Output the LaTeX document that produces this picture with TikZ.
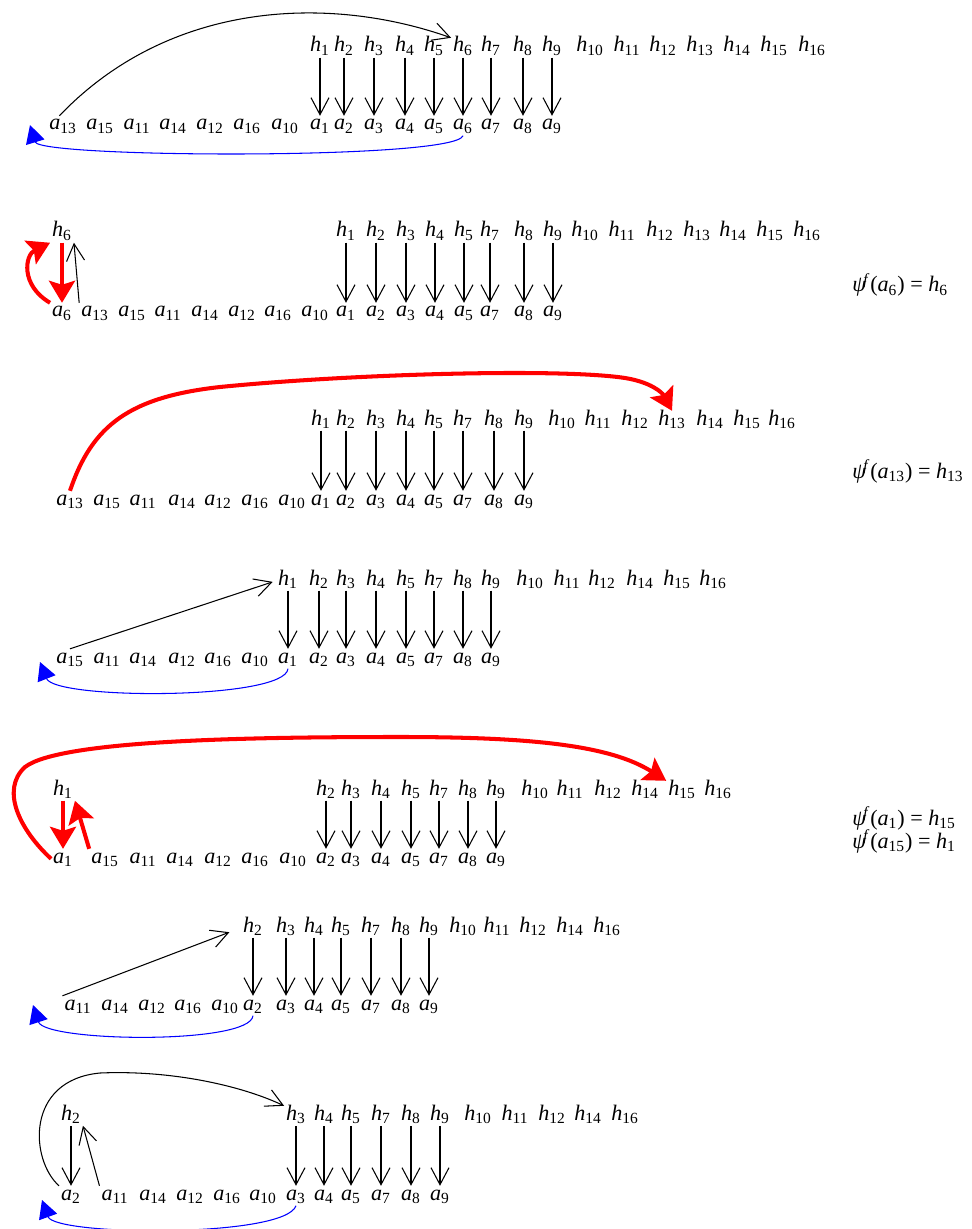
\documentclass[tikz,border=0pt]{standalone}
\usepackage{fontspec}
\setmainfont{Liberation Serif}
\usepackage{tikz}
\usetikzlibrary{arrows.meta}

\begin{document}
\begin{tikzpicture}[x=0.02cm,y=-0.02cm]
    \tikzstyle{lbl} = [
      inner sep=1pt,
      anchor=base,
      text height=1.5ex,
      text depth=0.45ex,
      font=\fontsize{12.6}{14}\selectfont,
    ]
    \tikzstyle{eqn} = [
      inner sep=0pt,
      anchor=base west,
      font=\fontsize{12.6}{14}\selectfont,
    ]
    \tikzstyle{link} = [
      line width=0.6pt,
      -{Straight Barb[length=0.34cm,width=0.36cm]},
      draw=black,
    ]
    \tikzstyle{back} = [
      line width=0.6pt,
      -{Triangle[length=0.36cm,width=0.38cm]},
      draw=blue,
      fill=none,
    ]
    \tikzstyle{hit} = [
      line width=2.3pt,
      -{Stealth[length=0.44cm,width=0.52cm,inset=0.08cm]},
      draw=red,
    ]

    \newcommand{\hsym}[1]{\textit{h}\textsubscript{#1}}
    \newcommand{\asym}[1]{\textit{a}\textsubscript{#1}}
    \newcommand{\psisym}[2]{\textit{ψ}\textsuperscript{\kern-0.2em\textit{f}}(\asym{#1}) = \hsym{#2}}

    \useasboundingbox (0,0) rectangle (972,1229);

    % row 1
    \foreach \i/\x in {1/320,2/344,3/374,4/405,5/434,6/463,7/491,8/523,9/552} {
      \node[lbl] (r1h\i) at (\x,52) {\hsym{\i}};
      \node[lbl] (r1a\i) at (\x,130) {\asym{\i}};
      \draw[link] (r1a\i |- r1h\i.south) -- (r1a\i.north);
    }
    \foreach \i/\x in {10/590,11/627,12/663,13/700,14/737,15/774,16/812}
      \node[lbl] (r1h\i) at (\x,52) {\hsym{\i}};
    \foreach \i/\x in {13/63,15/100,11/137,14/173,12/210,16/247,10/285}
      \node[lbl] (r1a\i) at (\x,130) {\asym{\i}};
    \coordinate (r1end) at (30,125);
    \draw[link] (r1a13.110) .. controls (170,0) and (330,-5) .. (r1h6.north west);
    \draw[back] (r1a6.south) .. controls (455,160) and (40,158) .. (r1end);

    % row 2
    \foreach \i/\x in {1/346,2/376,3/406,4/435,5/464,7/490,8/524,9/553} {
      \node[lbl] (r2h\i) at (\x,237) {\hsym{\i}};
      \node[lbl] (r2a\i) at (\x,317) {\asym{\i}};
      \draw[link] (r2a\i |- r2h\i.south) -- (r2a\i.north);
    }
    \foreach \i/\x in {10/585,11/622,12/660,13/697,14/733,15/770,16/807}
      \node[lbl] (r2h\i) at (\x,237) {\hsym{\i}};
    \node[lbl] (r2h6) at (62,237) {\hsym{6}};
    \node[lbl] (r2a6) at (62,317) {\asym{6}};
    \foreach \i/\x in {13/95,15/132,11/168,14/205,12/242,16/278,10/315}
      \node[lbl] (r2a\i) at (\x,317) {\asym{\i}};
    \draw[hit] (r2h6.south) -- (r2a6.north);
    \draw[hit] (r2a6.north west) .. controls (20,285) and (25,255) .. (r2h6.south west);
    \draw[link] (r2a13.north west) -- (r2h6.south east);
    \node[eqn] (r2psi) at (852,292) {\psisym{6}{6}};

    % row 3
    \foreach \i/\x in {1/321,2/346,3/376,4/406,5/434,7/463,8/494,9/524} {
      \node[lbl] (r3h\i) at (\x,425) {\hsym{\i}};
      \node[lbl] (r3a\i) at (\x,505) {\asym{\i}};
      \draw[link] (r3a\i |- r3h\i.south) -- (r3a\i.north);
    }
    \foreach \i/\x in {10/562,11/598,12/635,13/672,14/710,15/747,16/782}
      \node[lbl] (r3h\i) at (\x,425) {\hsym{\i}};
    \foreach \i/\x in {13/70,15/107,11/143,14/182,12/218,16/255,10/292}
      \node[lbl] (r3a\i) at (\x,505) {\asym{\i}};
    \draw[hit] (r3a13.north) .. controls (92,425) and (130,397) .. (220,387)
      .. controls (350,374) and (560,368) .. (625,378)
      .. controls (650,382) and (662,392) .. (r3h13.north);
    \node[eqn] (r3psi) at (852,478) {\psisym{13}{13}};

    % row 4
    \foreach \i/\x in {1/288,2/319,3/346,4/376,5/406,7/434,8/463,9/491} {
      \node[lbl] (r4h\i) at (\x,585) {\hsym{\i}};
      \node[lbl] (r4a\i) at (\x,663) {\asym{\i}};
      \draw[link] (r4a\i |- r4h\i.south) -- (r4a\i.north);
    }
    \foreach \i/\x in {10/530,11/567,12/602,14/640,15/677,16/713}
      \node[lbl] (r4h\i) at (\x,585) {\hsym{\i}};
    \foreach \i/\x in {15/70,11/107,14/143,12/182,16/218,10/255}
      \node[lbl] (r4a\i) at (\x,663) {\asym{\i}};
    \coordinate (r4end) at (40,662);
    \draw[link,shorten >=2pt] (r4a15.north) -- (r4h1.west);
    \draw[back] (r4a1.south) .. controls (285,700) and (55,700) .. (r4end);

    % row 5
    \foreach \i/\x in {2/326,3/351,4/381,5/411,7/439,8/468,9/496} {
      \node[lbl] (r5h\i) at (\x,795) {\hsym{\i}};
      \node[lbl] (r5a\i) at (\x,863) {\asym{\i}};
      \draw[link] (r5a\i |- r5h\i.south) -- (r5a\i.north);
    }
    \foreach \i/\x in {10/535,11/570,12/608,14/645,15/682,16/718}
      \node[lbl] (r5h\i) at (\x,795) {\hsym{\i}};
    \node[lbl] (r5h1) at (63,795) {\hsym{1}};
    \node[lbl] (r5a1) at (63,863) {\asym{1}};
    \foreach \i/\x in {15/105,11/143,14/180,12/218,16/255,10/293}
      \node[lbl] (r5a\i) at (\x,863) {\asym{\i}};
    \draw[hit] (r5h1.south) -- (r5a1.north);
    \draw[hit] (r5a15.north west) -- (r5h1.south east);
    \draw[hit] (r5a1.west) .. controls (20,830) and (0,790) .. (25,767)
      .. controls (60,740) and (250,737) .. (400,737)
      .. controls (530,737) and (610,745) .. (r5h15.north west);
    \node[eqn] (r5psiI) at (852,825) {\psisym{1}{15}};
    \node[eqn] (r5psiII) at (852,848) {\psisym{15}{1}};

    % row 6
    \foreach \i/\x in {2/253,3/286,4/314,5/341,7/371,8/401,9/429} {
      \node[lbl] (r6h\i) at (\x,932) {\hsym{\i}};
      \node[lbl] (r6a\i) at (\x,1010) {\asym{\i}};
      \draw[link] (r6a\i |- r6h\i.south) -- (r6a\i.north);
    }
    \foreach \i/\x in {10/463,11/497,12/533,14/570,16/607}
      \node[lbl] (r6h\i) at (\x,932) {\hsym{\i}};
    \foreach \i/\x in {11/78,14/115,12/152,16/188,10/225}
      \node[lbl] (r6a\i) at (\x,1010) {\asym{\i}};
    \coordinate (r6end) at (33,1005);
    \draw[link,shorten >=0.25cm] (r6a11.north west) -- (r6h2.west);
    \draw[back] (r6a2.south) .. controls (250,1045) and (45,1042) .. (r6end);

    % row 7
    \foreach \i/\x in {3/296,4/324,5/351,7/381,8/411,9/440} {
      \node[lbl] (r7h\i) at (\x,1120) {\hsym{\i}};
      \node[lbl] (r7a\i) at (\x,1200) {\asym{\i}};
      \draw[link] (r7a\i |- r7h\i.south) -- (r7a\i.north);
    }
    \foreach \i/\x in {10/478,11/515,12/552,14/588,16/625}
      \node[lbl] (r7h\i) at (\x,1120) {\hsym{\i}};
    \node[lbl] (r7h2) at (71,1120) {\hsym{2}};
    \node[lbl] (r7a2) at (71,1200) {\asym{2}};
    \foreach \i/\x in {11/115,14/153,12/190,16/227,10/263}
      \node[lbl] (r7a\i) at (\x,1200) {\asym{\i}};
    \coordinate (r7end) at (42,1200);
    \draw[link] (r7h2.south) -- (r7a2.north);
    \draw[link] (r7a11.north west) -- (r7h2.south east);
    \draw[link] (r7a2.north west) .. controls (30,1160) and (25,1080) .. (100,1073)
      .. controls (170,1070) and (240,1085) .. (r7h3.north west);
    \draw[back] (r7a3.south) .. controls (285,1238) and (55,1236) .. (r7end);
  \end{tikzpicture}
\end{document}
